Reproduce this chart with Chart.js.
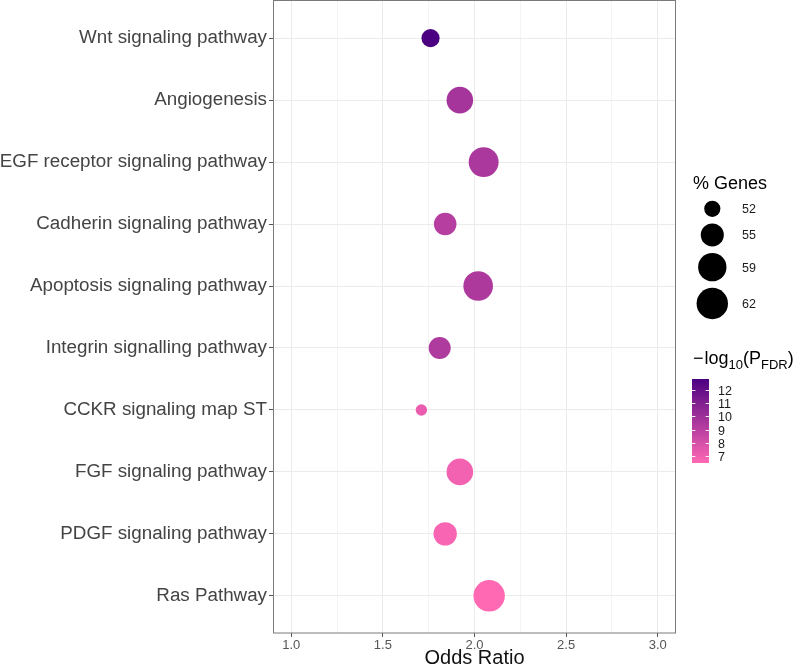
<!DOCTYPE html>
<html>
<head>
<meta charset="utf-8">
<script src="https://cdn.jsdelivr.net/npm/chart.js@4/dist/chart.umd.min.js"></script>
<style>
  html, body { margin: 0; padding: 0; background: #ffffff; }
  #wrap { width: 800px; height: 668px; }
</style>
</head>
<body>
<div id="wrap"><canvas id="c" width="800" height="668"></canvas></div>
<script>
// ---------------- data ----------------
const categories = [
  'Wnt signaling pathway',
  'Angiogenesis',
  'EGF receptor signaling pathway',
  'Cadherin signaling pathway',
  'Apoptosis signaling pathway',
  'Integrin signalling pathway',
  'CCKR signaling map ST',
  'FGF signaling pathway',
  'PDGF signaling pathway',
  'Ras Pathway'
];
const oddsRatio = [1.76, 1.92, 2.05, 1.84, 2.02, 1.81, 1.71, 1.92, 1.84, 2.08];
const pctGenes  = [52.6, 57.5, 60.5, 54.7, 60.2, 54.4, 51.4, 57.5, 55.2, 62.0];
const log10FDR  = [12.85, 9.7, 9.5, 9.1, 9.4, 9.3, 7.2, 6.9, 6.7, 6.45];

const xMajorTicks = [1.0, 1.5, 2.0, 2.5, 3.0];
const xMinorTicks = [1.25, 1.75, 2.25, 2.75];
const sizeLegendValues = [52, 55, 59, 62];
const colorLegendTicks = [7, 8, 9, 10, 11, 12];

// ---------------- style mappings ----------------
const SIZE_MIN = Math.min(...pctGenes), SIZE_MAX = Math.max(...pctGenes);
function radiusFor(v) {
  const t = Math.max(0, (v - SIZE_MIN) / (SIZE_MAX - SIZE_MIN));
  return 5.7 + 10 * Math.sqrt(t);
}
const COL_LO = Math.min(...log10FDR), COL_HI = Math.max(...log10FDR);

function hex2rgb(h){ return [parseInt(h.slice(1,3),16),parseInt(h.slice(3,5),16),parseInt(h.slice(5,7),16)]; }
function srgb2lin(c){ c/=255; return c<=0.04045? c/12.92 : Math.pow((c+0.055)/1.055,2.4); }
function lin2srgb(c){ c = c<=0.0031308? 12.92*c : 1.055*Math.pow(c,1/2.4)-0.055; return Math.round(Math.max(0,Math.min(1,c))*255); }
const WX=0.95047, WY=1, WZ=1.08883;
function f(t){ return t>0.008856? Math.cbrt(t) : 7.787*t+16/116; }
function fi(t){ return t>0.206893? t*t*t : (t-16/116)/7.787; }
function rgb2lab(rgb){
  const [r,g,b]=rgb.map(srgb2lin);
  const X=(0.4124*r+0.3576*g+0.1805*b)/WX, Y=(0.2126*r+0.7152*g+0.0722*b)/WY, Z=(0.0193*r+0.1192*g+0.9505*b)/WZ;
  return [116*f(Y)-16, 500*(f(X)-f(Y)), 200*(f(Y)-f(Z))];
}
function lab2rgb(lab){
  const fy=(lab[0]+16)/116, fx=fy+lab[1]/500, fz=fy-lab[2]/200;
  const X=fi(fx)*WX, Y=fi(fy)*WY, Z=fi(fz)*WZ;
  const r= 3.2406*X-1.5372*Y-0.4986*Z, g=-0.9689*X+1.8758*Y+0.0415*Z, b=0.0557*X-0.2040*Y+1.0570*Z;
  return [lin2srgb(r),lin2srgb(g),lin2srgb(b)];
}
const LAB_LO = rgb2lab(hex2rgb('#FF69B4'));
const LAB_HI = rgb2lab(hex2rgb('#4B0082'));
function colorFor(v){
  const t = Math.max(0, Math.min(1, (v-COL_LO)/(COL_HI-COL_LO)));
  const lab = LAB_LO.map((a,i)=>a+(LAB_HI[i]-a)*t);
  const c = lab2rgb(lab);
  return `rgb(${c[0]},${c[1]},${c[2]})`;
}

const FONT = '"Liberation Sans", Arial, Helvetica, sans-serif';

// ---------------- legends / border plugin ----------------
const extras = {
  id: 'extras',
  afterDraw(chart) {
    const ctx = chart.ctx;
    const a = chart.chartArea;
    ctx.save();
    // panel border
    ctx.strokeStyle = '#7a7a7a';
    ctx.lineWidth = 1;
    ctx.strokeRect(Math.round(a.left)+0.5, Math.round(a.top)-0.5, Math.round(a.right-a.left)-1, Math.round(a.bottom-a.top)+0.5);

    // size legend
    ctx.fillStyle = '#000';
    ctx.font = '18px ' + FONT;
    ctx.textAlign = 'left';
    ctx.textBaseline = 'alphabetic';
    ctx.fillText('% Genes', 693, 189);
    let y = 197.5;
    const cx = 712.3;
    ctx.font = '12.5px ' + FONT;
    sizeLegendValues.forEach(v => {
      const r = radiusFor(v);
      const h = 2*r + 6.5;
      const cy = y + h/2;
      ctx.beginPath();
      ctx.arc(cx, cy, r, 0, Math.PI*2);
      ctx.fillStyle = '#000';
      ctx.fill();
      ctx.textBaseline = 'middle';
      ctx.fillStyle = '#1a1a1a';
      ctx.fillText(String(v), 742, cy + 1);
      y += h;
    });

    // colour legend title: −log10(P_FDR)
    let x = 693;
    const base = 364;
    ctx.textBaseline = 'alphabetic';
    ctx.fillStyle = '#000';
    const seg = (txt, size, dy) => {
      ctx.font = size + 'px ' + FONT;
      ctx.fillText(txt, x, base + dy);
      x += ctx.measureText(txt).width;
    };
    seg('\u2212', 18, 0); x += 1;
    seg('log', 18, 0);
    seg('10', 13, 5);
    seg('(P', 18, 0);
    seg('FDR', 13, 5);
    seg(')', 18, 0);

    // colour bar
    const bx = 692, bw = 17, btop = 379, bbot = 463;
    const yOf = v => btop + (COL_HI - v) / (COL_HI - COL_LO) * (bbot - btop);
    const grad = ctx.createLinearGradient(0, btop, 0, bbot);
    for (let i = 0; i <= 20; i++) {
      const v = COL_HI - (COL_HI - COL_LO) * i / 20;
      grad.addColorStop(i/20, colorFor(v));
    }
    ctx.fillStyle = grad;
    ctx.fillRect(bx, btop, bw, bbot - btop);
    ctx.strokeStyle = 'rgba(255,255,255,0.9)';
    ctx.lineWidth = 1;
    ctx.font = '12.5px ' + FONT;
    ctx.textBaseline = 'middle';
    colorLegendTicks.forEach(v => {
      const ty = Math.round(yOf(v)) + 0.5;
      ctx.beginPath();
      ctx.moveTo(bx, ty); ctx.lineTo(bx + 3.4, ty);
      ctx.moveTo(bx + bw - 3.4, ty); ctx.lineTo(bx + bw, ty);
      ctx.stroke();
      ctx.fillStyle = '#1a1a1a';
      ctx.fillText(String(v), 718, ty + 1);
    });
    ctx.restore();
  }
};

// ---------------- chart ----------------
const points = categories.map((c, i) => ({ x: oddsRatio[i], y: i }));
const isMajor = v => xMajorTicks.some(m => Math.abs(m - v) < 1e-9);

new Chart(document.getElementById('c'), {
  type: 'scatter',
  data: {
    datasets: [{
      data: points,
      pointRadius: categories.map((c, i) => radiusFor(pctGenes[i])),
      pointHoverRadius: categories.map((c, i) => radiusFor(pctGenes[i])),
      backgroundColor: categories.map((c, i) => colorFor(log10FDR[i])),
      borderColor: categories.map((c, i) => colorFor(log10FDR[i])),
      borderWidth: 0
    }]
  },
  options: {
    responsive: false,
    animation: false,
    devicePixelRatio: 1,
    layout: { autoPadding: false, padding: { left: 0, right: 124, top: 1, bottom: 0 } },
    plugins: { legend: { display: false }, tooltip: { enabled: false } },
    scales: {
      x: {
        type: 'linear',
        min: 0.9, max: 3.1,
        afterBuildTicks: s => { s.ticks = xMajorTicks.concat(xMinorTicks).sort((a,b)=>a-b).map(v => ({ value: v })); },
        afterFit: s => { s.height = 35; s.paddingLeft = 0; s.paddingRight = 0; },
        border: { display: false },
        grid: {
          color: c => isMajor(c.tick.value) ? '#EBEBEB' : '#F4F4F4',
          lineWidth: 1,
          drawTicks: true,
          tickLength: 4,
          tickColor: c => isMajor(c.tick.value) ? '#555' : 'rgba(0,0,0,0)'
        },
        ticks: {
          autoSkip: false, maxRotation: 0,
          padding: 1,
          color: '#555',
          font: { family: FONT, size: 13 },
          callback: v => isMajor(v) ? v.toFixed(1) : ''
        },
        title: {
          display: true, text: 'Odds Ratio', color: '#111',
          font: { family: FONT, size: 20, lineHeight: 1 },
          padding: { top: 0, bottom: 0 }
        }
      },
      y: {
        type: 'linear',
        reverse: true,
        min: -0.6, max: 9.6,
        afterBuildTicks: s => { s.ticks = categories.map((c, i) => ({ value: i })); },
        afterFit: s => { s.width = 273; s.paddingTop = 0; s.paddingBottom = 0; },
        border: { display: false },
        grid: { color: '#EBEBEB', lineWidth: 1, drawTicks: true, tickLength: 4, tickColor: '#555' },
        ticks: {
          autoSkip: false,
          padding: 2,
          color: '#444',
          font: { family: FONT, size: 18.8 },
          callback: v => categories[v]
        }
      }
    }
  },
  plugins: [extras]
});
</script>
</body>
</html>
